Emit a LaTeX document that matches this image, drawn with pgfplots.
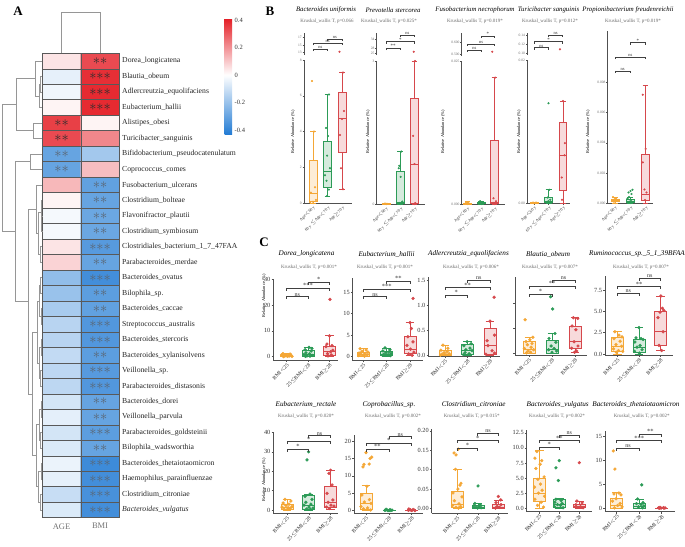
\documentclass[border=0pt]{standalone}
\usepackage{fontspec}
\setmainfont{Liberation Serif}
\usepackage{pgfplots}
\pgfplotsset{compat=1.18}
\usetikzlibrary{calc}
\definecolor{cOr}{RGB}{244,167,54}
\definecolor{cGr}{RGB}{44,155,87}
\definecolor{cRd}{RGB}{214,72,76}
\definecolor{axg}{RGB}{80,80,80}
\definecolor{txg}{RGB}{105,105,105}
\definecolor{stg}{RGB}{90,100,112}
\definecolor{dng}{RGB}{150,150,150}
\newcommand\fs[1]{\fontsize{#1}{#1}\selectfont}

\pgfplotsset{
  sub/.style={scale only axis, anchor=south west, axis lines*=left, enlargelimits=false, clip=false,
    axis line style={draw=axg, line width=0.8pt}, tick style={axg, line width=0.5pt},
    tick align=outside, major tick length=1.8pt, scaled ticks=false, xtick={1,2,3},
    /pgf/number format/assume math mode=true,
    xticklabel style={rotate=45, anchor=north east, inner sep=0.6pt}},
  bsub/.style={sub, major tick length=1.3pt, axis line style={line width=0.9pt},
    yticklabel style={font=\fs{3.6}, text=txg, inner sep=0.8pt},
    xticklabel style={font=\fs{4.2}, text=black!80},
    xticklabels={{Age$<$60 y},{60 y $\leq$Age$<$70 y},{Age$\geq$70 y}}},
  btop/.style={sub, major tick length=1.3pt, axis line style={line width=0.9pt}, axis x line=none, xtick=\empty,
    yticklabel style={font=\fs{3.6}, text=txg, inner sep=0.8pt}},
  csub/.style={sub, yticklabel style={font=\fs{6.3}, text=black!80, inner sep=1pt},
    xticklabel style={font=\fs{5.3}, text=black!85},
    xticklabels={{BMI$<$25},{25$\leq$BMI$<$28},{BMI$\geq$28}}},
  prec/.style={yticklabel style={/pgf/number format/fixed, /pgf/number format/fixed zerofill, /pgf/number format/precision=#1}},
  brkst/.style={black!75, line width=0.7pt, mark=none},
  dend/.style={dng, line width=0.7pt, mark=none},
  bxl/.style={draw=#1, line width=0.6pt, mark=none},
}
% box: position, lower whisker, Q1, median, Q3, upper whisker, colour, full width
\newcommand{\bx}[8]{\pgfmathsetmacro\xa{#1-#8/2}\pgfmathsetmacro\xb{#1+#8/2}%
  \pgfmathsetmacro\ca{#1-0.37*#8}\pgfmathsetmacro\cb{#1+0.37*#8}%
  \edef\tmp{%
  \noexpand\addplot[bxl=#7, fill=#7!20] coordinates {(\xa,#3) (\xb,#3) (\xb,#5) (\xa,#5)} -- cycle;
  \noexpand\addplot[bxl=#7] coordinates {(\xa,#4) (\xb,#4)};
  \noexpand\addplot[bxl=#7] coordinates {(#1,#5) (#1,#6)};
  \noexpand\addplot[bxl=#7] coordinates {(#1,#3) (#1,#2)};
  \noexpand\addplot[bxl=#7] coordinates {(\ca,#6) (\cb,#6)};
  \noexpand\addplot[bxl=#7] coordinates {(\ca,#2) (\cb,#2)};}\tmp}
\newcommand{\ptsB}[2]{\addplot[only marks, mark=*, mark size=0.85pt, draw=#1, fill=#1] coordinates {#2};}
\newcommand{\ptsC}[2]{\addplot[only marks, mark=*, mark size=1.45pt, draw=#1, fill=#1] coordinates {#2};}
% bracket: x1, x2, y, label, tick length, font size (pixel units)
\newcommand{\brk}[6]{\pgfmathsetmacro\yy{#3+#5}%
  \edef\tmp{\noexpand\addplot[brkst] coordinates {(#1,\yy) (#1,#3) (#2,#3) (#2,\yy)};}\tmp
  \node[font=\fs{#6}, anchor=south, inner sep=0.3pt, text=black!80] at ($(axis cs:#1,#3)!0.5!(axis cs:#2,#3)$) {#4};}
% dendrogram join: xa, ya, xb, yb, xjoin
\newcommand{\dendro}[5]{\addplot[dend] coordinates {(#1,#2) (#5,#2) (#5,#4) (#3,#4)};}

\begin{document}
\begin{tikzpicture}
\path[use as bounding box] (0pt,0pt) rectangle (685pt,-546pt);

% ---------------- A: heatmap
\begin{axis}[at={(42.3pt,-517.7pt)}, anchor=south west, scale only axis, width=77pt, height=464.4pt,
  xmin=0.5, xmax=2.5, ymin=0.5, ymax=30.5, enlargelimits=false, axis on top,
  xtick={1,2}, xticklabels={AGE,BMI}, ytick={1,...,30},
  yticklabels={\textit{Bacteroides\_vulgatus},Clostridium\_citroniae,Haemophilus\_parainfluenzae,Bacteroides\_thetaiotaomicron,Bilophila\_wadsworthia,Parabacteroides\_goldsteinii,Veillonella\_parvula,Bacteroides\_dorei,Parabacteroides\_distasonis,Veillonella\_sp.,Bacteroides\_xylanisolvens,Bacteroides\_stercoris,Streptococcus\_australis,Bacteroides\_caccae,Bilophila\_sp.,Bacteroides\_ovatus,Parabacteroides\_merdae,Clostridiales\_bacterium\_1\_7\_47FAA,Clostridium\_symbiosum,Flavonifractor\_plautii,Clostridium\_bolteae,Fusobacterium\_ulcerans,Coprococcus\_comes,Bifidobacterium\_pseudocatenulatum,Turicibacter\_sanguinis,Alistipes\_obesi,Eubacterium\_hallii,Adlercreutzia\_equolifaciens,Blautia\_obeum,Dorea\_longicatena},
  yticklabel pos=right, major tick length=0pt, minor tick length=0pt,
  minor xtick={1.5}, minor ytick={1.5,2.5,...,29.5}, grid=minor,
  minor grid style={draw=black!65, line width=0.5pt},
  axis line style={draw=black!65, line width=0.6pt},
  xticklabel style={font=\fs{8.5}, text=black!55, inner sep=0pt, yshift=-5.5pt},
  yticklabel style={font=\fs{7.7}, text=black!85, inner sep=0pt, xshift=2.7pt},
  colormap={rb}{rgb255(0cm)=(36,124,212) rgb255(4.3cm)=(255,255,255) rgb255(8.45cm)=(228,28,36)},
  point meta min=-0.43, point meta max=0.415,
  colorbar,
  colorbar style={at={(parent axis.north east)}, anchor=north west, xshift=96.7pt, yshift=35.3pt,
    width=7.5pt, height=116pt, ytick={-0.4,-0.2,0,0.2,0.4}, axis line style={draw=none},
    major tick length=0pt, yticklabel style={font=\fs{6.5}, text=black!80, inner sep=0pt, xshift=2.5pt,
    /pgf/number format/assume math mode=true}}]
\addplot[matrix plot*, mesh/cols=2, point meta=explicit] table[meta=c] {
x y c
1 1 -0.07
2 1 -0.37
1 2 -0.11
2 2 -0.36
1 3 -0.05
2 3 -0.37
1 4 -0.04
2 4 -0.38
1 5 -0.07
2 5 -0.30
1 6 -0.086
2 6 -0.32
1 7 -0.054
2 7 -0.30
1 8 -0.086
2 8 -0.30
1 9 -0.13
2 9 -0.34
1 10 -0.13
2 10 -0.33
1 11 -0.12
2 11 -0.32
1 12 -0.14
2 12 -0.34
1 13 -0.14
2 13 -0.34
1 14 -0.17
2 14 -0.31
1 15 -0.20
2 15 -0.32
1 16 -0.215
2 16 -0.37
1 17 0.08
2 17 -0.30
1 18 0.05
2 18 -0.33
1 19 -0.02
2 19 -0.29
1 20 -0.02
2 20 -0.29
1 21 0.02
2 21 -0.30
1 22 0.13
2 22 -0.31
1 23 -0.30
2 23 0.12
1 24 -0.30
2 24 -0.18
1 25 0.33
2 25 0.22
1 26 0.35
2 26 0.02
1 27 0.02
2 27 0.39
1 28 -0.03
2 28 0.39
1 29 -0.05
2 29 0.38
1 30 0.05
2 30 0.33
};
\addplot[draw=none, nodes near coords={\fs{15}${\ast}{\ast}$}, every node near coord/.append style={anchor=center, text=black!82, inner sep=0pt}] coordinates {(2,30) (1,26) (1,25)};
\addplot[draw=none, nodes near coords={\fs{15}${\ast}{\ast}{\ast}$}, every node near coord/.append style={anchor=center, text=black!82, inner sep=0pt}] coordinates {(2,29) (2,28) (2,27)};
\addplot[draw=none, nodes near coords={\fs{15}${\ast}{\ast}$}, every node near coord/.append style={anchor=center, text=stg, inner sep=0pt}] coordinates {(1,24) (1,23) (2,22) (2,21) (2,20) (2,19) (2,17) (2,15) (2,14) (2,11) (2,8) (2,7) (2,5)};
\addplot[draw=none, nodes near coords={\fs{15}${\ast}{\ast}{\ast}$}, every node near coord/.append style={anchor=center, text=stg, inner sep=0pt}] coordinates {(2,18) (2,16) (2,13) (2,12) (2,10) (2,9) (2,6) (2,4) (2,3) (2,2) (2,1)};
\end{axis}

% ---------------- B
\begin{axis}[bsub, at={(304pt,-203pt)}, width=48pt, height=143pt, xmin=0.379, xmax=3.69, ymin=0, ymax=8, ytick={0,2,4,6,8}]
\bx{1}{0}{0.08}{0.55}{2.4}{4.0}{cOr}{0.55}
\bx{2}{0.39}{0.88}{1.75}{3.43}{6.07}{cGr}{0.55}
\bx{3}{0.77}{2.83}{4.73}{6.22}{7.3}{cRd}{0.55}
\ptsB{cOr}{(0.93,6.83) (1.07,4.0) (1.14,0.88) (0.86,0.58) (1.2,0.17) (1.0,0.07) (0.8,0.03)}
\ptsB{cGr}{(2.1,6.07) (1.9,4.2) (2.03,3.75) (1.97,2.65) (2.17,1.95) (1.83,1.55) (1.93,1.25) (2.1,0.75) (1.97,0.39)}
\ptsB{cRd}{(3.07,7.3) (3.14,5.15) (3.0,4.7) (2.86,3.8) (2.93,1.95) (3.07,0.77)}
\end{axis}
\begin{axis}[btop, at={(304pt,-55pt)}, width=48pt, height=22pt, xmin=0.379, xmax=3.69, ymin=12.41, ymax=18.08, ytick={13,15,17}]
\ptsB{cRd}{(2.83,13.26)}
\end{axis}

\begin{axis}[bsub, at={(376.7pt,-204pt)}, width=48.3pt, height=143pt, xmin=0.347, xmax=3.737, ymin=0, ymax=3, ytick={0,3}]
\bx{1}{0}{0.003}{0.006}{0.012}{0.02}{cOr}{0.56}
\bx{2}{0}{0.01}{0.03}{0.68}{1.1}{cGr}{0.56}
\bx{3}{0}{0.02}{0.84}{2.22}{3.0}{cRd}{0.56}
\ptsB{cOr}{(0.93,0.01) (1.07,0.005) (1.0,0.001)}
\ptsB{cGr}{(2.07,1.1) (1.93,0.8) (1.9,0.75) (2.03,0.57) (2.14,0.05) (1.93,0.02) (2.07,0.01)}
\ptsB{cRd}{(3.03,3.0) (2.9,1.43) (3.0,0.84) (3.05,0.02)}
\end{axis}
\begin{axis}[btop, at={(376.7pt,-55pt)}, width=48.3pt, height=22pt, xmin=0.347, xmax=3.737, ymin=23.9, ymax=38.3, ytick={25,28,34}]
\ptsB{cRd}{(2.95,26)}
\end{axis}

\begin{axis}[bsub, prec=3, at={(461.7pt,-204pt)}, width=43.3pt, height=143pt, xmin=0.57, xmax=3.778, ymin=0, ymax=0.025, ytick={0,0.025}]
\bx{1}{0}{0.00003}{0.00008}{0.0002}{0.0004}{cOr}{0.59}
\bx{2}{0}{0.00005}{0.0001}{0.0003}{0.0005}{cGr}{0.59}
\bx{3}{0}{0.0001}{0.0003}{0.0112}{0.0221}{cRd}{0.59}
\ptsB{cOr}{(0.89,0.0003) (1.07,0.0002) (0.96,0.0001) (1.11,0.00001)}
\ptsB{cGr}{(1.93,0.0005) (2.07,0.0003) (2.0,0.0002) (1.89,0.0001) (2.11,0.00005)}
\ptsB{cRd}{(3.04,0.0221) (2.93,0.001) (3.11,0.0005) (2.96,0.0002)}
\end{axis}
\begin{axis}[btop, prec=3, at={(461.7pt,-56pt)}, width=43.3pt, height=23pt, xmin=0.57, xmax=3.778, ymin=0.4853, ymax=0.6836, ytick={0.5,0.6}]
\ptsB{cRd}{(2.84,0.522)}
\end{axis}

\begin{axis}[bsub, prec=2, at={(527.3pt,-203.3pt)}, width=42.7pt, height=143.3pt, xmin=0.509, xmax=3.505, ymin=0, ymax=0.02, ytick={0,0.02}]
\bx{1}{0}{0.00003}{0.00005}{0.0001}{0.0002}{cOr}{0.56}
\bx{2}{0}{0.0001}{0.0003}{0.0008}{0.0019}{cGr}{0.56}
\bx{3}{0}{0.00176}{0.0067}{0.0113}{0.01428}{cRd}{0.56}
\ptsB{cOr}{(0.91,0.0001) (1.12,0.0001) (0.98,0.00001)}
\ptsB{cGr}{(2.0,0.01396) (2.05,0.0019) (1.94,0.0008) (2.12,0.0005) (1.98,0.0003) (1.87,0.0001)}
\ptsB{cRd}{(3.01,0.01428) (3.15,0.0084) (3.12,0.0067) (2.92,0.0036) (2.94,0.0005)}
\end{axis}
\begin{axis}[btop, prec=2, at={(527.3pt,-55pt)}, width=42.7pt, height=22pt, xmin=0.509, xmax=3.505, ymin=0.0963, ymax=0.1444, ytick={0.10,0.12,0.14}]
\ptsB{cRd}{(2.8,0.1087)}
\end{axis}

\begin{axis}[bsub, prec=3, at={(607.7pt,-203pt)}, width=45.3pt, height=172pt, xmin=0.521, xmax=3.492, ymin=0, ymax=0.01143, ytick={0,0.002,0.004,0.006,0.008}]
\bx{1}{0}{0.00008}{0.00015}{0.00025}{0.0004}{cOr}{0.52}
\bx{2}{0}{0.00005}{0.0001}{0.00022}{0.0004}{cGr}{0.52}
\bx{3}{0}{0.00015}{0.0006}{0.00326}{0.0078}{cRd}{0.52}
\ptsB{cOr}{(0.87,0.0004) (1.07,0.0003) (0.97,0.00025) (1.13,0.0002) (0.84,0.00015) (1.03,0.0001) (0.93,0.00008)}
\ptsB{cGr}{(2.15,0.00088) (2.02,0.0008) (1.89,0.0007) (2.08,0.0006) (1.92,0.0004) (1.82,0.0003) (2.05,0.0002) (1.98,0.0001) (1.85,0.00005)}
\ptsB{cRd}{(2.82,0.0072) (3.01,0.0036) (2.82,0.0027) (2.93,0.0009) (3.07,0.0007) (2.97,0.0002)}
\end{axis}

% ---------------- C, row 1
\begin{axis}[csub, at={(273.3pt,-360pt)}, width=65pt, height=81pt, xmin=0.374, xmax=3.411, ymin=-1.28, ymax=30.1, ytick={0,10,20,30}]
\bx{1}{0}{0.1}{0.3}{0.6}{1.2}{cOr}{0.56}
\bx{2}{0}{0.2}{0.8}{2.5}{3.6}{cGr}{0.56}
\bx{3}{0.2}{0.6}{1.9}{4.1}{8.1}{cRd}{0.56}
\ptsC{cOr}{(0.83,1.2) (1.15,1.0) (0.92,0.8) (1.06,0.6) (0.8,0.5) (1.2,0.4) (0.97,0.3) (1.11,0.25) (0.87,0.2) (1.04,0.15) (1.25,0.1) (0.85,0.05) (1.18,0.9) (0.76,0.7)}
\ptsC{cGr}{(2.04,3.6) (2.18,3.2) (1.86,2.7) (2.14,2.2) (1.9,1.5) (2.07,1.1) (1.81,0.8) (2.21,0.5) (1.95,0.3) (2.09,0.2) (1.88,0.1)}
\ptsC{cRd}{(3.02,22.2) (3.0,8.1) (2.88,4.9) (3.12,4.3) (2.84,3.9) (3.16,2.5) (3.05,1.9) (2.91,1.2) (3.09,0.66) (2.93,0.3)}
\end{axis}

\begin{axis}[csub, at={(352.7pt,-360.5pt)}, width=70pt, height=82.5pt, xmin=0.546, xmax=3.544, ymin=-0.93, ymax=18.26, ytick={0,5,10,15}]
\bx{1}{0}{0.1}{0.4}{1.0}{1.8}{cOr}{0.51}
\bx{2}{0}{0.2}{0.6}{1.3}{2.0}{cGr}{0.51}
\bx{3}{0.3}{0.8}{1.7}{4.6}{7.9}{cRd}{0.51}
\ptsC{cOr}{(0.86,1.8) (1.12,1.5) (0.94,1.2) (1.2,1.0) (0.82,0.8) (1.07,0.6) (0.9,0.5) (1.16,0.4) (1.0,0.3) (0.8,0.2) (1.05,0.1)}
\ptsC{cGr}{(1.93,2.0) (2.14,1.6) (1.84,1.3) (2.1,1.1) (1.97,0.9) (2.19,0.7) (1.89,0.5) (2.06,0.4) (1.82,0.3) (2.16,0.2)}
\ptsC{cRd}{(3.13,13.5) (3.0,7.9) (3.06,6.5) (2.91,4.6) (3.13,3.4) (2.87,2.6) (3.02,1.7) (3.17,1.0) (2.94,0.6) (3.09,0.3)}
\end{axis}

\begin{axis}[csub, prec=1, at={(428.3pt,-356.5pt)}, width=71.7pt, height=79.2pt, xmin=0.258, xmax=3.444, ymin=-0.016, ymax=1.568, ytick={0,0.5,1,1.5}]
\bx{1}{0}{0.01}{0.03}{0.11}{0.21}{cOr}{0.53}
\bx{2}{0}{0.02}{0.1}{0.23}{0.28}{cGr}{0.53}
\bx{3}{0}{0.03}{0.2}{0.55}{0.69}{cRd}{0.53}
\ptsC{cOr}{(0.91,0.21) (1.13,0.15) (0.82,0.11) (1.09,0.08) (0.96,0.06) (1.18,0.04) (0.87,0.03) (1.04,0.02) (0.8,0.01)}
\ptsC{cGr}{(1.98,0.28) (2.16,0.24) (1.84,0.2) (2.11,0.15) (1.93,0.12) (2.2,0.1) (1.89,0.06) (2.07,0.04) (1.82,0.02)}
\ptsC{cRd}{(3.18,1.17) (3.0,0.69) (3.2,0.41) (2.87,0.3) (2.91,0.2) (3.09,0.1) (3.2,0.05) (2.82,0.03)}
\end{axis}

\begin{axis}[csub, at={(515pt,-355pt)}, width=71.7pt, height=78.3pt, xmin=0.391, xmax=3.509, ymin=-0.12, ymax=6.14, ytick={0,2,4}, yticklabels={,,}]
\bx{1}{0}{0.05}{0.3}{0.94}{1.3}{cOr}{0.52}
\bx{2}{0}{0.05}{0.3}{1.08}{1.6}{cGr}{0.52}
\bx{3}{0.1}{0.42}{0.94}{2.2}{2.86}{cRd}{0.52}
\ptsC{cOr}{(0.83,2.7) (1.17,1.3) (1.04,1.1) (0.87,0.95) (1.13,0.8) (0.93,0.7) (1.09,0.5) (0.8,0.4) (1.2,0.3) (0.96,0.2) (1.07,0.1) (0.89,0.05)}
\ptsC{cGr}{(1.94,4.54) (2.03,3.56) (2.13,1.6) (1.87,1.2) (2.17,0.9) (1.96,0.6) (2.09,0.4) (1.85,0.3) (2.2,0.2) (2.0,0.1)}
\ptsC{cRd}{(2.93,2.86) (3.12,2.8) (2.87,2.2) (3.04,1.9) (2.96,0.94) (3.13,0.6) (2.85,0.42) (3.07,0.2) (2.98,0.1)}
\end{axis}

\begin{axis}[csub, prec=1, at={(605pt,-355pt)}, width=68pt, height=79pt, xmin=0.419, xmax=3.581, ymin=-0.12, ymax=9.14, ytick={0,2.5,5,7.5}]
\bx{1}{0}{0.3}{0.9}{1.9}{2.6}{cOr}{0.56}
\bx{2}{0}{0.2}{0.8}{1.75}{3.1}{cGr}{0.56}
\bx{3}{0.4}{1.0}{2.6}{5.0}{6.8}{cRd}{0.56}
\ptsC{cOr}{(0.88,2.6) (1.07,2.2) (1.21,2.0) (0.84,1.8) (1.12,1.5) (0.93,1.1) (1.19,0.9) (0.81,0.6) (1.05,0.4) (1.24,0.3) (0.95,0.2)}
\ptsC{cGr}{(2.0,3.1) (1.86,1.9) (2.09,1.8) (2.19,1.7) (1.81,1.4) (2.05,1.0) (1.91,0.8) (2.14,0.5) (1.79,0.3) (2.02,0.1)}
\ptsC{cRd}{(3.02,6.8) (3.09,5.36) (3.16,5.1) (2.98,4.9) (2.88,4.26) (3.12,2.6) (2.93,1.0) (3.05,0.4)}
\end{axis}

% ---------------- C, row 2
\begin{axis}[csub, at={(273.3pt,-513.3pt)}, width=64.7pt, height=81.3pt, xmin=0.37, xmax=3.345, ymin=-1.7, ymax=40.2, ytick={0,10,20,30,40}]
\bx{1}{0}{0.5}{1.5}{3.0}{5.5}{cOr}{0.55}
\bx{2}{0}{0.4}{2.5}{7.5}{8.2}{cGr}{0.55}
\bx{3}{0.5}{1.5}{4.0}{12.0}{20.5}{cRd}{0.55}
\ptsC{cOr}{(0.91,5.5) (1.18,4.6) (0.82,3.6) (1.09,3.0) (0.95,2.4) (1.23,1.8) (0.77,1.5) (1.05,1.2) (1.14,0.8) (0.86,0.5) (1.02,0.3)}
\ptsC{cGr}{(1.99,30) (1.92,25.8) (2.06,8.2) (1.83,7.0) (2.15,5.5) (1.87,4.0) (2.1,3.0) (1.78,2.5) (2.01,1.5) (2.2,1.0) (1.9,0.5) (2.08,0.3)}
\ptsC{cRd}{(3.0,20.5) (2.93,18.9) (3.07,12.9) (2.84,8.6) (3.11,5.2) (2.89,4.0) (3.02,2.5) (3.16,2.0) (2.82,1.5) (2.95,0.8)}
\end{axis}

\begin{axis}[csub, at={(354pt,-513.3pt)}, width=69pt, height=78.3pt, xmin=0.475, xmax=3.495, ymin=-0.75, ymax=21.75, ytick={0,5,10,15,20}]
\bx{1}{0}{0.3}{2.1}{5.0}{7.2}{cOr}{0.525}
\bx{2}{0}{0.05}{0.1}{0.2}{0.4}{cGr}{0.525}
\bx{3}{0}{0.05}{0.1}{0.25}{0.5}{cRd}{0.525}
\ptsC{cOr}{(1.0,16.7) (1.25,15.4) (1.18,15.0) (1.14,13.4) (0.91,13.3) (0.87,12.6) (1.04,7.0) (0.82,4.5) (1.15,3.2) (0.93,2.5) (1.22,2.1) (0.78,1.2) (1.07,0.8) (0.89,0.5) (1.2,0.2)}
\ptsC{cGr}{(1.88,0.4) (2.05,0.3) (1.92,0.2) (2.14,0.15) (1.83,0.1) (2.01,0.05) (2.09,0.05) (1.96,0.02)}
\ptsC{cRd}{(2.88,0.5) (3.06,0.35) (2.95,0.25) (3.12,0.15) (2.86,0.1) (3.01,0.05) (3.14,0.02)}
\end{axis}

\begin{axis}[csub, prec=2, at={(431.7pt,-513.3pt)}, width=76.3pt, height=84pt, xmin=-0.249, xmax=3.473, ymin=-0.0124, ymax=0.204, ytick={0,0.05,0.1,0.15,0.2}]
\bx{1}{0}{0.002}{0.012}{0.044}{0.101}{cOr}{0.585}
\bx{2}{0}{0.001}{0.003}{0.008}{0.013}{cGr}{0.585}
\bx{3}{0}{0.001}{0.004}{0.012}{0.02}{cRd}{0.585}
\ptsC{cOr}{(1.05,0.153) (0.84,0.143) (0.94,0.138) (0.91,0.101) (1.18,0.065) (1.13,0.06) (1.03,0.05) (0.79,0.04) (1.23,0.03) (0.86,0.02) (1.08,0.012) (0.77,0.008) (1.16,0.005) (0.94,0.003) (1.06,0.001)}
\ptsC{cGr}{(2.01,0.058) (1.86,0.013) (2.11,0.01) (1.81,0.007) (2.06,0.005) (1.91,0.003) (2.16,0.002) (1.99,0.001)}
\ptsC{cRd}{(3.0,0.031) (3.12,0.022) (2.89,0.015) (3.13,0.01) (2.94,0.005) (3.06,0.003) (2.86,0.001)}
\end{axis}

\begin{axis}[csub, prec=1, at={(526.7pt,-511.7pt)}, width=65.3pt, height=81.7pt, xmin=0.37, xmax=3.635, ymin=-0.56, ymax=12.96, ytick={0,2.5,5,7.5,10,12.5}]
\bx{1}{0}{1.1}{2.5}{5.0}{9.6}{cOr}{0.6}
\bx{2}{0}{0.2}{0.6}{1.5}{1.6}{cGr}{0.6}
\bx{3}{0}{0.1}{0.3}{0.7}{1.2}{cRd}{0.6}
\ptsC{cOr}{(0.88,9.4) (0.78,8.3) (1.12,7.9) (1.04,7.3) (0.83,6.6) (1.24,5.2) (0.93,4.8) (1.06,4.0) (0.76,3.5) (1.14,3.0) (0.96,2.5) (1.26,2.0) (0.78,1.5) (1.09,1.0) (0.91,0.5) (1.21,0.2)}
\ptsC{cGr}{(2.0,7.9) (1.83,6.7) (1.95,4.6) (1.83,1.5) (2.09,1.3) (1.78,1.0) (2.14,0.8) (1.91,0.6) (2.06,0.5) (1.76,0.3) (2.19,0.1)}
\ptsC{cRd}{(3.0,7.55) (2.88,1.2) (3.14,0.9) (2.83,0.6) (3.06,0.3) (3.19,0.1)}
\end{axis}

\begin{axis}[csub, at={(605pt,-511.7pt)}, width=70pt, height=81pt, xmin=0.48, xmax=3.591, ymin=-0.71, ymax=16.23, ytick={0,5,10,15}]
\bx{1}{0}{0.1}{0.7}{2.1}{3.3}{cOr}{0.53}
\bx{2}{0}{0.1}{0.4}{1.0}{1.95}{cGr}{0.53}
\bx{3}{0}{0.02}{0.05}{0.1}{0.2}{cRd}{0.53}
\ptsC{cOr}{(0.85,12.0) (0.92,8.2) (1.1,3.2) (0.88,3.0) (1.19,2.8) (0.97,2.0) (0.81,1.5) (1.15,1.0) (1.04,0.6) (1.24,0.3) (0.9,0.1)}
\ptsC{cGr}{(2.11,4.9) (1.93,1.95) (2.17,1.2) (1.88,1.0) (2.08,0.8) (2.21,0.5) (1.97,0.3) (2.15,0.1)}
\ptsC{cRd}{(2.92,0.2) (3.08,0.15) (2.86,0.1) (3.15,0.08) (2.97,0.05) (3.1,0.02) (2.9,0.02)}
\end{axis}

% ---------------- overlay in pixel units: dendrograms, brackets, titles
\begin{axis}[at={(0pt,-546pt)}, anchor=south west, scale only axis, width=685pt, height=546pt,
  xmin=0, xmax=685, ymin=0, ymax=546, y dir=reverse, hide axis, clip=false]
% top dendrogram
\addplot[dend] coordinates {(61.5,53.3) (61.5,12) (100.3,12) (100.3,53.3)};
% left dendrogram
\dendro{42.3}{76.52}{42.3}{92.0}{40.5}
\dendro{40.5}{84.26}{42.3}{107.48}{39.3}
\dendro{42.3}{61.04}{39.3}{95.87}{35}
\dendro{42.3}{122.96}{42.3}{138.44}{33}
\dendro{35}{78.46}{33}{130.7}{16.7}
\dendro{42.3}{153.92}{42.3}{169.4}{30}
\dendro{42.3}{215.84}{42.3}{231.32}{41.5}
\dendro{42.3}{200.36}{41.5}{223.58}{41}
\dendro{42.3}{246.8}{42.3}{262.28}{40.5}
\dendro{41}{211.97}{40.5}{254.54}{38.5}
\dendro{42.3}{184.88}{38.5}{233.26}{36.7}
\dendro{42.3}{277.76}{42.3}{293.24}{40.8}
\dendro{42.3}{308.72}{42.3}{324.2}{41}
\dendro{40.8}{285.5}{41}{316.46}{39.5}
\dendro{42.3}{339.68}{42.3}{355.16}{41.2}
\dendro{42.3}{370.64}{42.3}{386.12}{40.6}
\dendro{41.2}{347.42}{40.6}{378.38}{39.8}
\dendro{39.5}{300.98}{39.8}{362.9}{37.5}
\dendro{42.3}{401.6}{42.3}{417.08}{41}
\dendro{42.3}{432.56}{42.3}{448.04}{40.7}
\dendro{41}{409.34}{40.7}{440.3}{39.3}
\dendro{42.3}{463.52}{42.3}{479.0}{41}
\dendro{42.3}{494.48}{42.3}{509.96}{40.3}
\dendro{41}{471.26}{40.3}{502.22}{38.5}
\dendro{39.3}{424.82}{38.5}{486.74}{36}
\dendro{37.5}{331.94}{36}{455.78}{32.3}
\dendro{36.7}{209.07}{32.3}{393.86}{28.3}
\dendro{30}{161.66}{28.3}{301.47}{15}
\dendro{16.7}{104.58}{15}{231.57}{2.7}
% B brackets
\brk{313}{327.5}{49.3}{ns}{1.8}{4.5}
\brk{313}{342}{43.3}{ns}{1.8}{4.5}
\brk{327.5}{342}{39}{ns}{1.8}{4.5}
\brk{386}{400.25}{48.3}{**}{1.8}{5}
\brk{386}{414.5}{41.7}{*}{1.8}{5}
\brk{400.25}{414.5}{35}{ns}{1.8}{4.5}
\brk{467.5}{481}{50}{ns}{1.8}{4.5}
\brk{467.5}{494.5}{44}{ns}{1.8}{4.5}
\brk{481}{494.5}{36}{*}{1.8}{5}
\brk{534.3}{548.55}{47.7}{ns}{1.8}{4.5}
\brk{534.3}{562.8}{41.7}{*}{1.8}{5}
\brk{548.55}{562.8}{35}{ns}{1.8}{4.5}
\brk{615}{630.25}{71}{ns}{1.8}{4.5}
\brk{615}{645.5}{57.3}{ns}{1.8}{4.5}
\brk{630.25}{645.5}{42.7}{*}{1.8}{5}
% C brackets
\brk{286.7}{308.1}{296.7}{ns}{2.5}{6}
\brk{286.7}{329.5}{288.3}{***}{2.5}{6.5}
\brk{308.1}{329.5}{282.3}{*}{2.5}{6.5}
\brk{363.3}{386.65}{296.7}{ns}{2.5}{6}
\brk{363.3}{410}{289}{***}{2.5}{6.5}
\brk{386.65}{410}{281}{**}{2.5}{6.5}
\brk{445}{467.5}{295}{*}{2.5}{6.5}
\brk{445}{490}{287.7}{**}{2.5}{6.5}
\brk{467.5}{490}{280}{ns}{2.5}{6}
\brk{529}{552}{294.3}{*}{2.5}{6.5}
\brk{529}{575}{286}{**}{2.5}{6.5}
\brk{552}{575}{280}{ns}{2.5}{6}
\brk{617.5}{639}{293.3}{ns}{2.5}{6}
\brk{617.5}{660.5}{286.7}{**}{2.5}{6.5}
\brk{639}{660.5}{278.3}{ns}{2.5}{6}
\brk{287}{308.75}{449.3}{*}{2.5}{6.5}
\brk{287}{330.5}{441.7}{*}{2.5}{6.5}
\brk{308.75}{330.5}{435.7}{ns}{2.5}{6}
\brk{366}{388.85}{449.3}{**}{2.5}{6.5}
\brk{366}{411.7}{443.3}{*}{2.5}{6.5}
\brk{388.85}{411.7}{436.7}{ns}{2.5}{6}
\brk{457.3}{477.8}{448.3}{*}{2.5}{6.5}
\brk{457.3}{498.3}{440.7}{*}{2.5}{6.5}
\brk{477.8}{498.3}{433}{ns}{2.5}{6}
\brk{539.3}{559.3}{447.3}{*}{2.5}{6.5}
\brk{539.3}{579.3}{440.7}{**}{2.5}{6.5}
\brk{559.3}{579.3}{435}{ns}{2.5}{6}
\brk{616.7}{639.2}{448.3}{ns}{2.5}{6}
\brk{616.7}{661.7}{440.7}{***}{2.5}{6.5}
\brk{639.2}{661.7}{434.3}{**}{2.5}{6.5}
% panel letters
\node[font={\fs{13}\bfseries}] at (axis cs:18,11) {A};
\node[font={\fs{13}\bfseries}] at (axis cs:270,11) {B};
\node[font={\fs{13}\bfseries}] at (axis cs:264,242.5) {C};
% B titles
\node[font={\fs{6.8}\itshape}] at (axis cs:326,10) {Bacteroides uniformis};
\node[font={\fs{6.8}\itshape}] at (axis cs:393,10) {Prevotella stercorea};
\node[font={\fs{6.8}\itshape}] at (axis cs:475,10) {Fusobacterium necrophorum};
\node[font={\fs{6.8}\itshape}] at (axis cs:548.5,10) {Turicibacter sanguinis};
\node[font={\fs{6.8}\itshape}] at (axis cs:628,10) {Propionibacterium freudenreichii};
\node[font=\fs{5}, text=txg] at (axis cs:327,21.7) {Kruskal\_wallis T, p=0.066};
\node[font=\fs{5}, text=txg] at (axis cs:389,21.7) {Kruskal\_wallis T, p=0.025*};
\node[font=\fs{5}, text=txg] at (axis cs:475,21.7) {Kruskal\_wallis T, p=0.019*};
\node[font=\fs{5}, text=txg] at (axis cs:550,21.7) {Kruskal\_wallis T, p=0.012*};
\node[font=\fs{5}, text=txg] at (axis cs:633,21.7) {Kruskal\_wallis T, p=0.019*};
\node[font=\fs{4.4}, rotate=90] at (axis cs:293,132) {Relative Abundance (\%)};
\node[font=\fs{4.4}, rotate=90] at (axis cs:368,132) {Relative Abundance (\%)};
\node[font=\fs{4.4}, rotate=90] at (axis cs:443,132) {Relative Abundance (\%)};
\node[font=\fs{4.4}, rotate=90] at (axis cs:519,132) {Relative Abundance (\%)};
\node[font=\fs{4.4}, rotate=90] at (axis cs:588,132) {Relative Abundance (\%)};
% C titles
\node[font={\fs{7.2}\itshape}] at (axis cs:306.5,254) {Dorea\_longicatena};
\node[font={\fs{7.2}\itshape}] at (axis cs:386.5,254) {Eubacterium\_hallii};
\node[font={\fs{7.2}\itshape}] at (axis cs:468.5,254) {Adlercreutzia\_equolifaciens};
\node[font={\fs{7.2}\itshape}] at (axis cs:548,254) {Blautia\_obeum};
\node[font={\fs{7.2}\itshape}] at (axis cs:637,254) {Ruminococcus\_sp.\_5\_1\_39BFAA};
\node[font={\fs{7.2}\itshape}] at (axis cs:306,404.5) {Eubacterium\_rectale};
\node[font={\fs{7.2}\itshape}] at (axis cs:389,404.5) {Coprobacillus\_sp.};
\node[font={\fs{7.2}\itshape}] at (axis cs:473.7,404.5) {Clostridium\_citroniae};
\node[font={\fs{7.2}\itshape}] at (axis cs:557.7,404.5) {Bacteroides\_vulgatus};
\node[font={\fs{7.2}\itshape}] at (axis cs:636,404.5) {Bacteroides\_thetaiotaomicron};
\node[font=\fs{5}, text=txg] at (axis cs:309,267) {Kruskal\_wallis T, p=0.001*};
\node[font=\fs{5}, text=txg] at (axis cs:385,267) {Kruskal\_wallis T, p=0.001*};
\node[font=\fs{5}, text=txg] at (axis cs:471,267) {Kruskal\_wallis T, p=0.006*};
\node[font=\fs{5}, text=txg] at (axis cs:550,267) {Kruskal\_wallis T, p=0.007*};
\node[font=\fs{5}, text=txg] at (axis cs:641,267) {Kruskal\_wallis T, p=0.007*};
\node[font=\fs{5}, text=txg] at (axis cs:306,416) {Kruskal\_wallis T, p=0.020*};
\node[font=\fs{5}, text=txg] at (axis cs:393,416) {Kruskal\_wallis T, p=0.002*};
\node[font=\fs{5}, text=txg] at (axis cs:471.7,416) {Kruskal\_wallis T, p=0.015*};
\node[font=\fs{5}, text=txg] at (axis cs:557,416) {Kruskal\_wallis T, p=0.002*};
\node[font=\fs{5}, text=txg] at (axis cs:641.7,416) {Kruskal\_wallis T, p=0.002*};
\node[font=\fs{4.4}, rotate=90] at (axis cs:264,296) {Relative Abundance (\%)};
\node[font=\fs{4.4}, rotate=90] at (axis cs:264,480) {Relative Abundance (\%)};
\end{axis}
\end{tikzpicture}
\end{document}
